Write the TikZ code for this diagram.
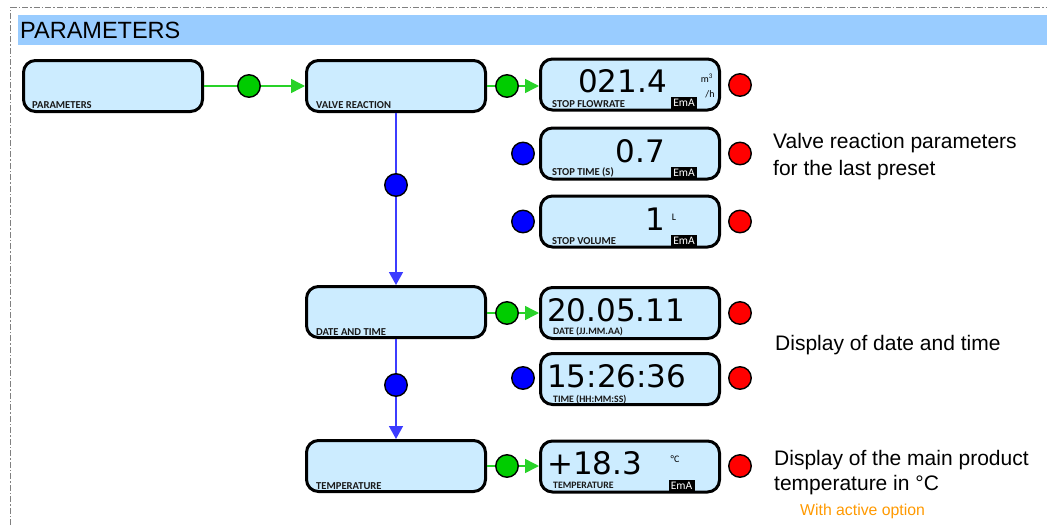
\documentclass[tikz,border=0pt]{standalone}
\usepackage{fontspec}
\setmainfont{Liberation Sans}
\newfontfamily\dispfont{DejaVu Sans}
\newfontfamily\lblfont{Carlito}
\newfontfamily\lblbfont{Carlito Bold}
\usetikzlibrary{arrows.meta}
\definecolor{hdr}{RGB}{153,204,255}
\definecolor{boxfill}{RGB}{204,236,255}
\definecolor{cgreen}{RGB}{0,204,0}
\definecolor{lgreen}{RGB}{40,210,40}
\definecolor{cblue}{RGB}{0,0,255}
\definecolor{lblue}{RGB}{60,60,255}
\definecolor{cred}{RGB}{255,0,0}
\definecolor{corange}{RGB}{255,153,0}
\definecolor{framegray}{RGB}{128,128,128}
\begin{document}
\begin{tikzpicture}[x=1pt,y=-1pt,
  menubox/.style={draw=black,line width=3pt,fill=boxfill,rounded corners=12pt,
    minimum width=179pt,minimum height=51pt,inner sep=0pt},
  dot/.style={circle,draw=black,line width=1.4pt,minimum size=22.5pt,inner sep=0pt},
  gdot/.style={dot,fill=cgreen},
  bdot/.style={dot,fill=cblue},
  rdot/.style={dot,fill=cred},
  gline/.style={draw=lgreen,line width=1.5pt},
  garrow/.style={gline,-{Triangle[length=14pt,width=14pt]}},
  bline/.style={draw=lblue,line width=1.5pt},
  barrow/.style={bline,-{Triangle[length=13pt,width=14pt]}},
  boxlbl/.style={anchor=base west,inner sep=0pt,font=\lblbfont\fontsize{10.6}{12}\selectfont,text=black!90},
  smalllbl/.style={anchor=base west,inner sep=0pt,font=\lblbfont\fontsize{9.8}{11}\selectfont,text=black!90},
  value/.style={inner sep=0pt,text depth=0pt,font=\dispfont\fontsize{31}{36}\selectfont},
  unit/.style={inner sep=0pt,font=\lblfont\fontsize{10}{11}\selectfont},
  ema/.style={fill=black,text=white,inner sep=0pt,minimum width=26pt,minimum height=11.5pt,
    font=\lblfont\fontsize{11.5}{12}\selectfont},
  desc/.style={anchor=base west,inner sep=0pt,font=\fontsize{21}{25}\selectfont},
]
\useasboundingbox (0,0) rectangle (1047,525);
% frame and header
\draw[framegray,line width=1pt,dash pattern=on 6pt off 2pt on 1.5pt off 2pt] (10.5,525) -- (10.5,7.5) -- (1047,7.5);
\fill[hdr] (18,15) rectangle (1047,45);
\node[anchor=base west,inner sep=0pt,font=\fontsize{23.5}{28}\selectfont] (title) at (20,38) {PARAMETERS};

% menu boxes
\node[menubox] (pbox) at (113,86) {};
\node[menubox] (vbox) at (396,86) {};
\node[menubox] (dbox) at (396,312) {};
\node[menubox] (tbox) at (396,466) {};
\node[boxlbl] (plbl) at (32,108) {PARAMETERS};
\node[boxlbl] (vlbl) at (316,108) {VALVE REACTION};
\node[boxlbl] (dlbl) at (316,335) {DATE AND TIME};
\node[boxlbl] (tlbl) at (316,489) {TEMPERATURE};

% display boxes
\node[menubox] (flow) at (630,84.5) {};
\node[menubox] (stime) at (630,153.5) {};
\node[menubox] (svol) at (630,221.5) {};
\node[menubox] (date) at (630,313) {};
\node[menubox] (time) at (630,379) {};
\node[menubox] (temp) at (630,466.5) {};

\node[value,anchor=base east] (v1) at (667,92) {021.4};
\node[value,anchor=base east] (v2) at (665,162) {0.7};
\node[value,anchor=base east] (v3) at (665,230) {1};
\node[value,anchor=base west] (v4) at (547,321) {20.05.11};
\node[value,anchor=base west] (v5) at (547,387) {15:26:36};
\node[value,anchor=base west] (v6) at (547,474) {+18.3};

\node[unit] (u1) at (707,78) {m\textsuperscript{3}};
\node[unit] (u2) at (710,94) {/h};
\node[unit] (u3) at (674,217) {L};
\node[unit] (u4) at (675,459) {°C};

\node[ema] (e1) at (684,103) {EmA};
\node[ema] (e2) at (684,172.5) {EmA};
\node[ema] (e3) at (684,241) {EmA};
\node[ema] (e4) at (681.5,485.5) {EmA};

\node[boxlbl] (l1) at (552,107) {STOP FLOWRATE};
\node[boxlbl] (l2) at (552,175) {STOP TIME (S)};
\node[boxlbl] (l3) at (552,244) {STOP VOLUME};
\node[smalllbl] (l4) at (553,334.5) {DATE (JJ.MM.AA)};
\node[smalllbl] (l5) at (553,402) {TIME (HH:MM:SS)};
\node[smalllbl] (l6) at (553,488) {TEMPERATURE};

% circles
\node[gdot] (g1) at (249,86) {};
\node[gdot] (g2) at (507,86) {};
\node[gdot] (g3) at (507,313) {};
\node[gdot] (g4) at (507,466) {};
\node[bdot] (b1) at (396,185) {};
\node[bdot] (b2) at (396,385) {};
\node[bdot] (b3) at (523,153.5) {};
\node[bdot] (b4) at (523,221.5) {};
\node[bdot] (b5) at (523,378) {};
\node[rdot] (r1) at (740,85) {};
\node[rdot] (r2) at (740,153.5) {};
\node[rdot] (r3) at (740,221.5) {};
\node[rdot] (r4) at (740,313) {};
\node[rdot] (r5) at (740,378) {};
\node[rdot] (r6) at (740,466) {};

% connectors
\draw[gline] (pbox) -- (g1);
\draw[garrow] (g1) -- (vbox);
\draw[gline] (vbox.east |- g2) -- (g2);
\draw[garrow] (g2) -- (g2 -| flow.west);
\draw[gline] (dbox.east |- g3) -- (g3);
\draw[garrow] (g3) -- (g3 -| date.west);
\draw[gline] (tbox.east |- g4) -- (g4);
\draw[garrow] (g4) -- (g4 -| temp.west);
\draw[bline] (vbox) -- (b1);
\draw[barrow] (b1) -- (dbox);
\draw[bline] (dbox) -- (b2);
\draw[barrow] (b2) -- (tbox);

% descriptions
\node[desc] (d1) at (773,148) {Valve reaction parameters};
\node[desc] (d2) at (773,175) {for the last preset};
\node[desc] (d3) at (775,350) {Display of date and time};
\node[desc] (d4) at (774,465) {Display of the main product};
\node[desc] (d5) at (774,490) {temperature in °C};
\node[anchor=base west,inner sep=0pt,text=corange,font=\fontsize{15.8}{18}\selectfont] (opt) at (800,515) {With active option};
\end{tikzpicture}
\end{document}
